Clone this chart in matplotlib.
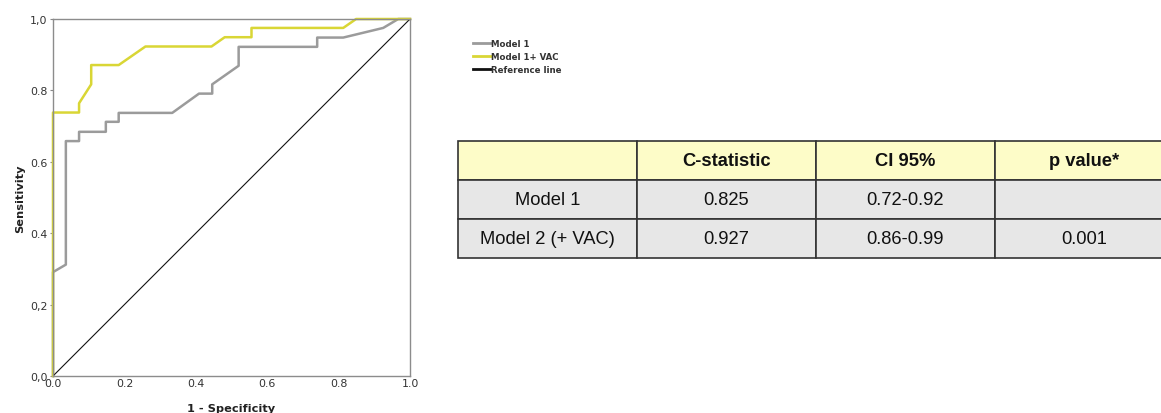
import matplotlib
matplotlib.use("Agg")
import matplotlib.pyplot as plt

# ROC curve points (1 - specificity, sensitivity)
fpr_model1 = [0, 0, 0.036, 0.036, 0.073, 0.073, 0.148, 0.148, 0.184, 0.184,
              0.334, 0.409, 0.446, 0.446, 0.520, 0.520, 0.740, 0.740, 0.813,
              0.925, 0.967, 1.0]
tpr_model1 = [0, 0.291, 0.312, 0.658, 0.658, 0.684, 0.684, 0.712, 0.712, 0.737,
              0.737, 0.791, 0.791, 0.817, 0.869, 0.922, 0.922, 0.948, 0.948,
              0.975, 1.0, 1.0]

fpr_vac = [0, 0, 0.073, 0.073, 0.107, 0.107, 0.184, 0.259, 0.444, 0.481,
           0.556, 0.556, 0.813, 0.849, 1.0]
tpr_vac = [0, 0.738, 0.738, 0.764, 0.817, 0.871, 0.871, 0.923, 0.923, 0.949,
           0.949, 0.975, 0.975, 1.0, 1.0]

ref_line = [0, 1]

tick_vals = [0, 0.2, 0.4, 0.6, 0.8, 1.0]
xtick_labels = ["0.0", "0.2", "0.4", "0.6", "0.8", "1.0"]
ytick_labels = ["0,0", "0,2", "0.4", "0.6", "0.8", "1,0"]

# summary table
col_labels = ["", "C-statistic", "CI 95%", "p value*"]
row_model1 = ["Model 1", "0.825", "0.72-0.92", ""]
row_model2 = ["Model 2 (+ VAC)", "0.927", "0.86-0.99", "0.001"]

W, H = 1161, 414
fig = plt.figure(figsize=(W / 100, H / 100), dpi=100)

ax = fig.add_axes([53 / W, 1 - 377 / H, 357 / W, 357 / H])
ax.plot(fpr_model1, tpr_model1, color="#9b9b9b", lw=1.8, clip_on=False, label="Model 1")
ax.plot(fpr_vac, tpr_vac, color="#d9d635", lw=1.8, clip_on=False, label="Model 1+ VAC")
ax.plot(ref_line, ref_line, color="#111111", lw=0.8, label="Reference line")

ax.set_xlim(0, 1)
ax.set_ylim(0, 1)
ax.set_xticks(tick_vals)
ax.set_xticklabels(xtick_labels)
ax.set_yticks(tick_vals)
ax.set_yticklabels(ytick_labels)
ax.tick_params(axis="x", length=0, pad=1.5, labelsize=7.9, colors="#333333")
ax.tick_params(axis="y", length=2.5, width=0.8, pad=1.5, labelsize=7.9,
               colors="#333333", color="#888888")
for sp in ax.spines.values():
    sp.set_color("#8c8c8c")
    sp.set_linewidth(1.0)

ax.set_xlabel("1 - Specificity", fontsize=8.2, fontweight="bold", color="#222222")
ax.set_ylabel("Sensitivity", fontsize=8.2, fontweight="bold", color="#222222")
ax.xaxis.set_label_coords(0.5, -0.075)
ax.yaxis.set_label_coords(-0.078, 0.5)

leg = fig.legend(loc="upper left", bbox_to_anchor=(470 / W, 1 - 37 / H),
                 frameon=False, prop={"size": 6.2, "weight": "bold"},
                 handlelength=2.0, handletextpad=0.05, labelspacing=0.45,
                 borderaxespad=0)
for t in leg.get_texts():
    t.set_color("#333333")
for line in leg.get_lines():
    line.set_linewidth(2.0)

tax = fig.add_axes([458 / W, 1 - 259 / H, 716 / W, 117 / H])
tax.axis("off")
tbl = tax.table(cellText=[row_model1, row_model2], colLabels=col_labels,
                cellLoc="center", bbox=[0, 0, 1, 1])
tbl.auto_set_font_size(False)
for (r, c), cell in tbl.get_celld().items():
    cell.set_edgecolor("#333333")
    cell.set_linewidth(1.2)
    cell.set_facecolor("#fdfcc8" if r == 0 else "#e7e7e7")
    txt = cell.get_text()
    txt.set_fontsize(13.2)
    txt.set_fontfamily("Liberation Sans")
    txt.set_color("#111111")
    if r == 0:
        txt.set_fontweight("bold")

fig.savefig("out.png", dpi=100)
